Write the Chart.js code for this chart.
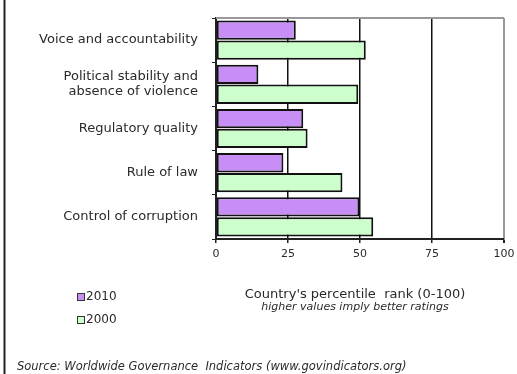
<!DOCTYPE html>
<html>
<head>
<meta charset="utf-8">
<script src="https://cdn.jsdelivr.net/npm/chart.js@4/dist/chart.umd.min.js"></script>
<style>
  html, body { margin: 0; padding: 0; background: #fff; }
  #wrap { width: 517px; height: 374px; }
</style>
</head>
<body>
<div id="wrap"><canvas id="wgi" width="517" height="374"></canvas></div>
<script>
const categories = [
  "Voice and accountability",
  ["Political stability and", "absence of violence"],
  "Regulatory quality",
  "Rule of law",
  "Control of corruption",
];
const values2010 = [27.7, 14.7, 30.3, 23.4, 49.8];
const values2000 = [52.0, 49.4, 31.8, 43.9, 54.6];
const xTicks = [0, 25, 50, 75, 100];

const purple = "#c78ff5";
const green = "#ccffcc";
// a wide sans, the original text looks stretched
const font = "'DejaVu Sans', sans-serif";
const textColor = "#2a2a2a";

// frame line, legend, axis caption and source text
const extrasPlugin = {
  id: "extras",
  afterDraw(chart) {
    const ctx = chart.ctx;
    const area = chart.chartArea;
    ctx.save();

    // top border of the plot
    ctx.strokeStyle = "#999";
    ctx.lineWidth = 2;
    ctx.beginPath();
    ctx.moveTo(area.left, area.top);
    ctx.lineTo(area.right, area.top);
    ctx.stroke();

    // left frame line
    ctx.strokeStyle = "#222";
    ctx.beginPath();
    ctx.moveTo(4.5, 0);
    ctx.lineTo(4.5, 374);
    ctx.stroke();

    // legend
    ctx.font = "12px " + font;
    ctx.textBaseline = "middle";
    ctx.textAlign = "left";
    chart.data.datasets.forEach((ds, i) => {
      const y = 297 + i * 23;
      ctx.fillStyle = ds.backgroundColor;
      ctx.fillRect(77, y - 4, 7, 7);
      ctx.strokeStyle = "#333";
      ctx.lineWidth = 1;
      ctx.strokeRect(77.5, y - 3.5, 7, 7);
      ctx.fillStyle = textColor;
      ctx.fillText(ds.label, 86, y);
    });

    // axis caption
    const cx = (area.left + area.right) / 2 - 5;
    ctx.textAlign = "center";
    ctx.fillStyle = textColor;
    ctx.font = "13px " + font;
    ctx.fillText("Country's percentile  rank (0-100)", cx, 295);
    ctx.font = "oblique 11px " + font;
    ctx.fillText("higher values imply better ratings", cx, 307);

    // source
    ctx.textAlign = "left";
    ctx.font = "oblique 11.5px " + font;
    ctx.fillText("Source: Worldwide Governance  Indicators (www.govindicators.org)", 17, 367);

    ctx.restore();
  },
};

new Chart(document.getElementById("wgi"), {
  type: "bar",
  data: {
    labels: categories,
    datasets: [
      {
        label: "2010",
        data: values2010,
        backgroundColor: purple,
        borderColor: "#111",
        borderWidth: 2,
        borderSkipped: false,
        categoryPercentage: 0.9,
        barPercentage: 0.97,
      },
      {
        label: "2000",
        data: values2000,
        backgroundColor: green,
        borderColor: "#111",
        borderWidth: 2,
        borderSkipped: false,
        categoryPercentage: 0.9,
        barPercentage: 0.97,
      },
    ],
  },
  options: {
    indexAxis: "y",
    responsive: false,
    animation: false,
    devicePixelRatio: 1,
    layout: {
      padding: { left: 8, right: 13, top: 18, bottom: 105 },
    },
    plugins: {
      legend: { display: false },
      tooltip: { enabled: false },
    },
    scales: {
      x: {
        min: 0,
        max: 100,
        afterBuildTicks: (scale) => {
          scale.ticks = xTicks.map((v) => ({ value: v }));
        },
        afterFit: (scale) => {
          scale.height = 30;
          scale.paddingLeft = 0;
          scale.paddingRight = 0;
        },
        border: { display: true, color: "#222", width: 2 },
        grid: {
          color: (c) => (c.index === 4 ? "#999" : "#111"),
          lineWidth: (c) => (c.index === 4 ? 2 : 1.5),
          tickColor: "#222",
          tickLength: 4,
        },
        ticks: {
          color: textColor,
          font: { family: font, size: 11 },
          padding: 5,
        },
      },
      y: {
        afterFit: (scale) => {
          scale.width = 208;
          scale.paddingTop = 0;
          scale.paddingBottom = 0;
        },
        border: { display: true, color: "#222", width: 2 },
        grid: {
          color: "rgba(0,0,0,0)",
          tickColor: "#222",
          tickLength: 4,
        },
        ticks: {
          color: textColor,
          font: { family: font, size: 13 },
          padding: 14,
        },
      },
    },
  },
  plugins: [extrasPlugin],
});
</script>
</body>
</html>
